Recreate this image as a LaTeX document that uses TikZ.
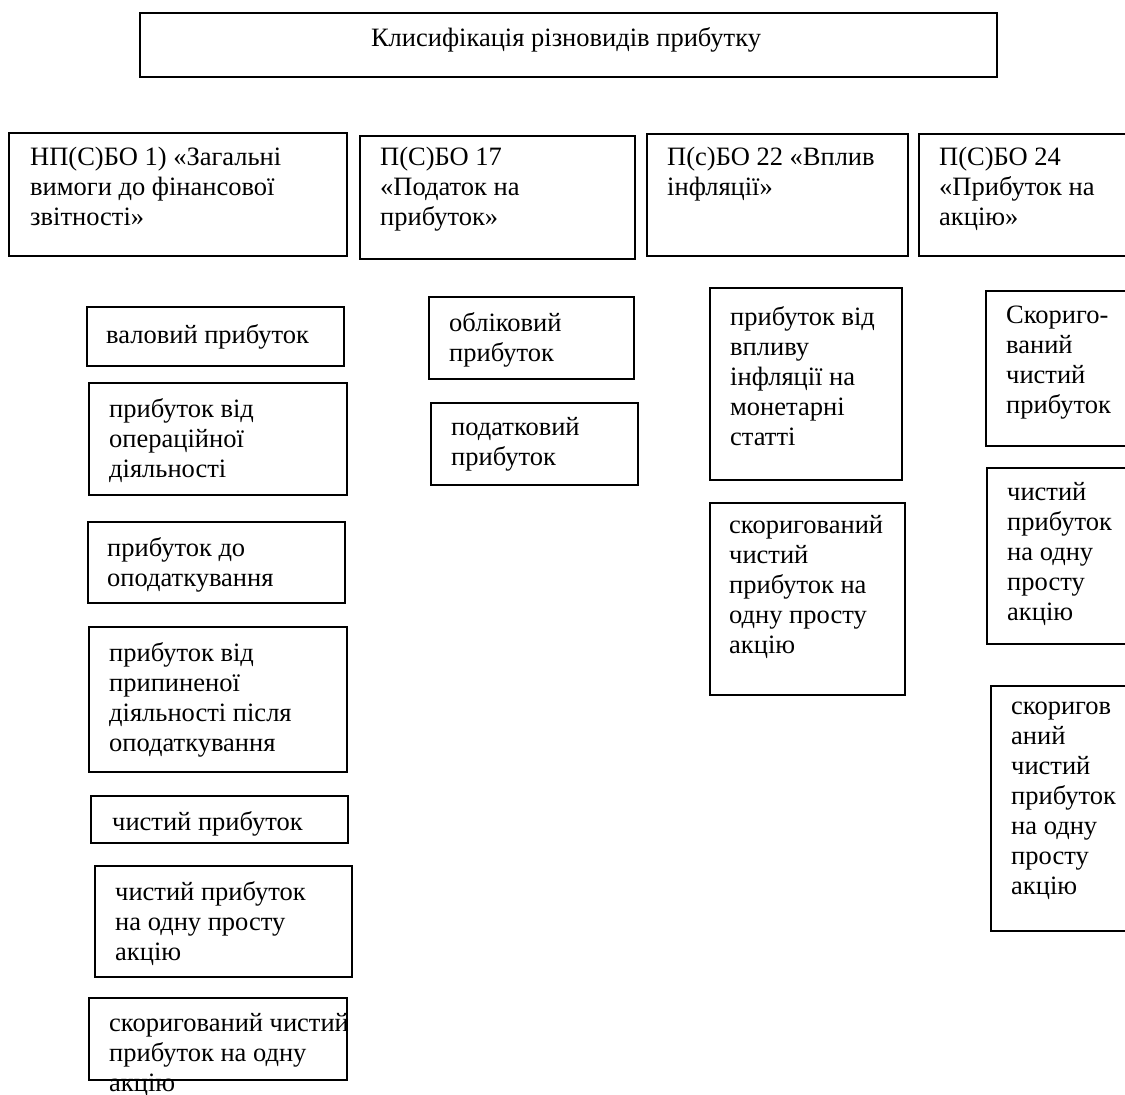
\documentclass[tikz,border=0pt]{standalone}
\usepackage{fontspec}
\setmainfont{Liberation Serif}
\begin{document}
\begin{tikzpicture}[x=1pt,y=-1pt,
  frame/.style={draw, line width=1.8pt},
  txt/.style={anchor=north west, inner sep=0pt, align=left,
    font=\fontsize{26.5}{30}\selectfont, execute at begin node=\strut}]
\useasboundingbox (0,0) rectangle (1125,1095);
\clip (0,0) rectangle (1125,1095);
\fill[white] (0,0) rectangle (1125,1095);
% frames
\draw[frame] (140,13) rectangle (997,77);
\draw[frame] (9,133) rectangle (347,256);
\draw[frame] (360,136) rectangle (635,259);
\draw[frame] (647,134) rectangle (908,256);
\draw[frame] (919,134) rectangle (1140,256);
\draw[frame] (87,307) rectangle (344,366);
\draw[frame] (89,383) rectangle (347,495);
\draw[frame] (88,522) rectangle (345,603);
\draw[frame] (89,627) rectangle (347,772);
\draw[frame] (91,796) rectangle (348,843);
\draw[frame] (95,866) rectangle (352,977);
\draw[frame] (89,998) rectangle (347,1080);
\draw[frame] (429,297) rectangle (634,379);
\draw[frame] (431,403) rectangle (638,485);
\draw[frame] (710,288) rectangle (902,480);
\draw[frame] (710,503) rectangle (905,695);
\draw[frame] (986,291) rectangle (1140,446);
\draw[frame] (987,468) rectangle (1140,644);
\draw[frame] (991,686) rectangle (1140,931);
% texts
\node[anchor=base, inner sep=0pt, font=\fontsize{26.5}{30}\selectfont] (title) at (566,46) {Клисифікація різновидів прибутку};
\node[txt] (h1) at (30,147) {НП(С)БО 1) «Загальні\\вимоги до фінансової\\звітності»};
\node[txt] (h2) at (380,147) {П(С)БО 17\\«Податок на\\прибуток»};
\node[txt] (h3) at (667,147) {П(с)БО 22 «Вплив\\інфляції»};
\node[txt] (h4) at (939,147) {П(С)БО 24\\«Прибуток на\\акцію»};
\node[txt] (l1) at (106,322) {валовий прибуток};
\node[txt] (l2) at (109,398) {прибуток від\\операційної\\діяльності};
\node[txt] (l3) at (107,537) {прибуток до\\оподаткування};
\node[txt] (l4) at (109,642) {прибуток від\\припиненої\\діяльності після\\оподаткування};
\node[txt] (l5) at (112,809) {чистий прибуток};
\node[txt] (l6) at (115,881) {чистий прибуток\\на одну просту\\акцію};
\node[txt] (l7) at (109,1013) {скоригований чистий\\прибуток на одну\\акцію};
\node[txt] (m1) at (449,312) {обліковий\\прибуток};
\node[txt] (m2) at (451,417) {податковий\\прибуток};
\node[txt] (c1) at (730,306) {прибуток від\\впливу\\інфляції на\\монетарні\\статті};
\node[txt] (c2) at (729,515) {скоригований\\чистий\\прибуток на\\одну просту\\акцію};
\node[txt] (r1) at (1006,306) {Скориго-\\ваний\\чистий\\прибуток};
\node[txt] (r2) at (1007,482) {чистий\\прибуток\\на одну\\просту\\акцію};
\node[txt] (r3) at (1011,702) {скоригов\\аний\\чистий\\прибуток\\на одну\\просту\\акцію};
\end{tikzpicture}
\end{document}
